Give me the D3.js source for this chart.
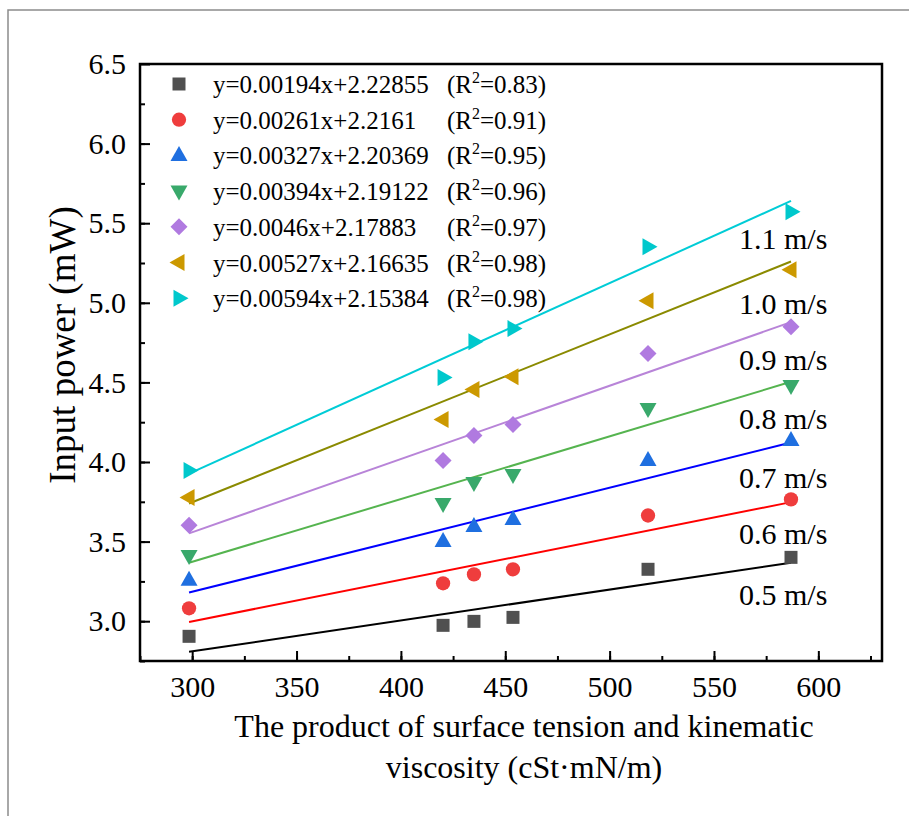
<!DOCTYPE html>
<html>
<head>
<meta charset="utf-8">
<script src="https://cdn.jsdelivr.net/npm/d3@7"></script>
<style>
  body { margin: 0; background: #fff; }
  svg text { font-family: "Liberation Serif", "Times New Roman", serif; fill: #000; }
</style>
</head>
<body>
<div id="chart"></div>
<script>
// x values (cSt*mN/m) shared by every speed
var xValues = [298.5, 420.2, 435.0, 453.7, 518.4, 586.9];

var speeds = ["0.5 m/s", "0.6 m/s", "0.7 m/s", "0.8 m/s", "0.9 m/s", "1.0 m/s", "1.1 m/s"];

// input power (mW)
var p05 = [2.905, 2.974, 2.999, 3.024, 3.326, 3.401];
var p06 = [3.081, 3.238, 3.294, 3.326, 3.664, 3.765];
var p07 = [3.257, 3.501, 3.595, 3.639, 4.009, 4.135];
var p08 = [3.413, 3.740, 3.871, 3.922, 4.336, 4.480];
var p09 = [3.602, 4.009, 4.166, 4.235, 4.681, 4.850];
var p10 = [3.777, 4.267, 4.455, 4.536, 5.013, 5.208];
var p11 = [3.947, 4.530, 4.756, 4.838, 5.352, 5.572];

// fit lines y = a*x + b
var slopes = [0.00194, 0.00261, 0.00327, 0.00394, 0.0046, 0.00527, 0.00594];
var intercepts = [2.22855, 2.2161, 2.20369, 2.19122, 2.17883, 2.16635, 2.15384];
var eqLabels = ["y=0.00194x+2.22855", "y=0.00261x+2.2161", "y=0.00327x+2.20369",
                "y=0.00394x+2.19122", "y=0.0046x+2.17883", "y=0.00527x+2.16635",
                "y=0.00594x+2.15384"];
var r2Labels = ["0.83", "0.91", "0.95", "0.96", "0.97", "0.98", "0.98"];

// where the speed labels sit (data units)
var labelX = 562;
var labelY = [3.165, 3.554, 3.900, 4.276, 4.641, 4.993, 5.401];

var xTicks = [300, 350, 400, 450, 500, 550, 600];
var yTicks = [3.0, 3.5, 4.0, 4.5, 5.0, 5.5, 6.0, 6.5];

var markerFill = ["#505050", "#ef3d3d", "#1f6fe0", "#39a96b", "#b07ae0", "#cc9900", "#00c8cc"];
var lineColor = ["#000000", "#ff0000", "#0000ff", "#55b44f", "#b884d8", "#8a8a00", "#00ccd6"];
var shapes = ["square", "circle", "up", "down", "diamond", "left", "right"];

function init() {
    var w = 909, h = 816;
    var left = 140, right = 882, top = 64, bottom = 661;
    var series = [p05, p06, p07, p08, p09, p10, p11];

    var svg = d3.select("#chart").append("svg")
        .attr("width", w)
        .attr("height", h);

    // outer grey frame (image border)
    svg.append("path")
        .attr("d", "M8," + (h + 5) + "V10H" + (w + 5))
        .attr("fill", "none")
        .attr("stroke", "#8c8c8c")
        .attr("stroke-width", 1.5);

    var xScale = d3.scaleLinear().domain([275, 630.5]).range([left, right]);
    var yScale = d3.scaleLinear().domain([2.75, 6.5]).range([bottom, top]);

    // marker path by shape name
    function marker(shape) {
        if (shape == "square") return "M-6.5,-6.5h13v13h-13z";
        if (shape == "circle") return d3.symbol(d3.symbolCircle, 160)();
        if (shape == "up") return "M0,-9.5L8.5,5.5H-8.5Z";
        if (shape == "down") return "M0,9.5L8.5,-5.5H-8.5Z";
        if (shape == "diamond") return "M0,-8.5L8.5,0L0,8.5L-8.5,0Z";
        if (shape == "left") return "M-9.5,0L5.5,-8.5V8.5Z";
        return "M9.5,0L-5.5,-8.5V8.5Z";
    }

    // fit lines
    var line = d3.line()
        .x(function(d) { return xScale(d); });
    series.forEach(function(s, i) {
        var ends = [d3.min(xValues), d3.max(xValues)];
        svg.append("path")
            .datum(ends)
            .attr("d", line.y(function(d) { return yScale(slopes[i] * d + intercepts[i]); }))
            .attr("fill", "none")
            .attr("stroke", lineColor[i])
            .attr("stroke-width", 2);
    });

    // markers
    series.forEach(function(s, i) {
        svg.append("g").selectAll("path")
            .data(s)
            .enter().append("path")
            .attr("transform", function(d, j) {
                return "translate(" + xScale(xValues[j]) + "," + yScale(d) + ")";
            })
            .attr("d", marker(shapes[i]))
            .attr("fill", markerFill[i]);
    });

    // speed labels
    svg.append("g").selectAll("text")
        .data(speeds)
        .enter().append("text")
        .attr("x", xScale(labelX))
        .attr("y", function(d, i) { return yScale(labelY[i]); })
        .attr("dy", "0.35em")
        .style("font-size", "30px")
        .text(function(d) { return d; });

    // axes: major ticks point inward
    var yAxis = d3.axisLeft(yScale).tickValues(yTicks).tickSize(-10).tickPadding(14)
        .tickFormat(d3.format(".1f"));
    var yMinor = d3.axisLeft(yScale).tickValues(d3.range(2.75, 6.5, 0.25)).tickSize(-5).tickFormat("");
    var xAxis = d3.axisBottom(xScale).tickValues(xTicks).tickSize(-10).tickPadding(15);
    var xMinor = d3.axisBottom(xScale).tickValues(d3.range(275, 630, 25)).tickSize(-5).tickFormat("");

    [yMinor, yAxis].forEach(function(ax) {
        var g = svg.append("g").attr("transform", "translate(" + left + ",0)").call(ax);
        g.select(".domain").remove();
        g.selectAll("line").attr("stroke-width", 2);
        g.selectAll("text").style("font-size", "30px").attr("fill", "#000");
    });
    [xMinor, xAxis].forEach(function(ax) {
        var g = svg.append("g").attr("transform", "translate(0," + bottom + ")").call(ax);
        g.select(".domain").remove();
        g.selectAll("line").attr("stroke-width", 2);
        g.selectAll("text").style("font-size", "30px").attr("fill", "#000");
    });

    // plot frame
    svg.append("rect")
        .attr("x", left)
        .attr("y", top)
        .attr("width", right - left)
        .attr("height", bottom - top)
        .attr("fill", "none")
        .attr("stroke", "#000")
        .attr("stroke-width", 2.5);

    // legend
    var legend = svg.append("g");
    eqLabels.forEach(function(t, i) {
        var cy = 84 + i * 35.7;
        legend.append("path")
            .attr("transform", "translate(179," + cy + ")")
            .attr("d", marker(shapes[i]))
            .attr("fill", markerFill[i]);
        legend.append("text")
            .attr("x", 213)
            .attr("y", cy + 9)
            .style("font-size", "25px")
            .text(t);
        var r = legend.append("text")
            .attr("x", 447)
            .attr("y", cy + 9)
            .style("font-size", "25px");
        r.append("tspan").text("(R");
        r.append("tspan").attr("dy", -10).style("font-size", "16px").text("2");
        r.append("tspan").attr("dy", 10).text("=" + r2Labels[i] + ")");
    });

    // axis titles
    svg.append("text")
        .attr("transform", "translate(75,345) rotate(-90)")
        .attr("text-anchor", "middle")
        .style("font-size", "37px")
        .text("Input power (mW)");

    svg.append("text")
        .attr("x", 524)
        .attr("y", 737)
        .attr("text-anchor", "middle")
        .style("font-size", "32px")
        .text("The product of surface tension and kinematic");
    svg.append("text")
        .attr("x", 524)
        .attr("y", 778)
        .attr("text-anchor", "middle")
        .style("font-size", "32px")
        .text("viscosity (cSt\u00b7mN/m)");
}

window.onload = init;
</script>
</body>
</html>
